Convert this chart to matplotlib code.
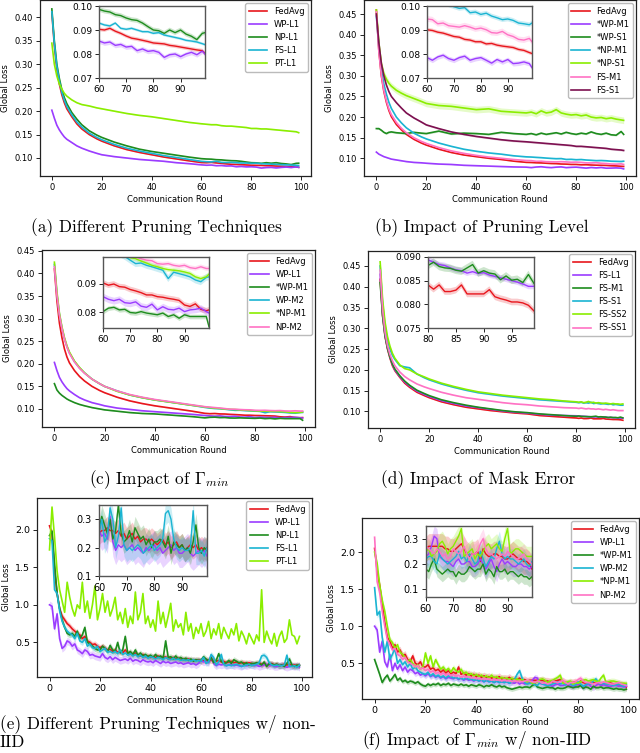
import numpy as np
import matplotlib
matplotlib.use("Agg")
import matplotlib.pyplot as plt

plt.rcParams['mathtext.fontset'] = 'cm'

# ---------------- data ----------------
# rounds used for the IID panels (a)-(c)
R_MAIN = [0, 1, 2, 3, 4, 5, 6, 8, 10, 12, 15, 18, 20, 25, 30, 35, 40, 45, 50, 55,
          60, 62, 64, 66, 68, 70, 72, 74, 76, 78, 80, 82, 84, 86, 88, 90, 92, 94, 96, 98, 99]
# rounds used for panel (d) (inset covers 80-99)
R_D = [0, 1, 2, 3, 4, 5, 6, 8, 10, 12, 15, 18, 20, 25, 30, 35, 40, 45, 50, 55, 60, 65, 70, 75,
       80, 81, 82, 83, 84, 85, 86, 87, 88, 89, 90, 91, 92, 93, 94, 95, 96, 97, 98, 99]
# non-IID panels (e)-(f): every round
R_NOISY = list(range(100))

# (a) Different Pruning Techniques
A_FEDAVG = [0.410, 0.340, 0.290, 0.258, 0.235, 0.218, 0.205, 0.188, 0.173, 0.162, 0.150, 0.141, 0.136, 0.126, 0.118, 0.112, 0.107, 0.102, 0.098, 0.094,
            0.0903, 0.0900, 0.0907, 0.0895, 0.0886, 0.0875, 0.0866, 0.0862, 0.0857, 0.0852, 0.0846, 0.0844, 0.0842, 0.0836, 0.0833, 0.0829, 0.0825, 0.0821, 0.0817, 0.0814, 0.0802]
A_WP_L1 = [0.202, 0.185, 0.170, 0.160, 0.152, 0.145, 0.140, 0.133, 0.126, 0.121, 0.115, 0.110, 0.107, 0.103, 0.100, 0.097, 0.095, 0.093, 0.090, 0.088,
           0.0854, 0.0846, 0.0850, 0.0836, 0.0840, 0.0829, 0.0832, 0.0814, 0.0821, 0.0811, 0.0814, 0.0807, 0.0786, 0.0797, 0.0800, 0.0789, 0.0800, 0.0807, 0.0797, 0.0812, 0.0800]
A_NP_L1 = [0.418, 0.350, 0.300, 0.270, 0.246, 0.229, 0.216, 0.197, 0.183, 0.171, 0.158, 0.149, 0.144, 0.134, 0.126, 0.119, 0.114, 0.110, 0.106, 0.102,
           0.0986, 0.0979, 0.0975, 0.0964, 0.0960, 0.0950, 0.0943, 0.0940, 0.0929, 0.0914, 0.0900, 0.0897, 0.0886, 0.0900, 0.0889, 0.0900, 0.0883, 0.0874, 0.0860, 0.0886, 0.0889]
A_FS_L1 = [0.412, 0.345, 0.295, 0.264, 0.240, 0.223, 0.210, 0.192, 0.177, 0.166, 0.153, 0.144, 0.139, 0.129, 0.121, 0.115, 0.110, 0.105, 0.101, 0.097,
           0.0929, 0.0921, 0.0917, 0.0929, 0.0907, 0.0903, 0.0907, 0.0900, 0.0893, 0.0893, 0.0886, 0.0889, 0.0879, 0.0874, 0.0869, 0.0864, 0.0857, 0.0854, 0.0850, 0.0843, 0.0839]
A_PT_L1 = [0.345, 0.300, 0.275, 0.258, 0.247, 0.238, 0.232, 0.224, 0.218, 0.214, 0.211, 0.207, 0.205, 0.200, 0.195, 0.191, 0.188, 0.184, 0.180, 0.176,
           0.173, 0.172, 0.171, 0.171, 0.169, 0.168, 0.168, 0.167, 0.166, 0.165, 0.163, 0.163, 0.162, 0.162, 0.161, 0.160, 0.159, 0.158, 0.157, 0.156, 0.154]
A_LABELS = ['FedAvg', 'WP-L1', 'NP-L1', 'FS-L1', 'PT-L1']
A_SPREAD = [0.0008, 0.0010, 0.0010, 0.0006, 0.0008]

# (b) Impact of Pruning Level
B_FEDAVG = [0.460, 0.360, 0.300, 0.262, 0.236, 0.216, 0.201, 0.182, 0.169, 0.158, 0.146, 0.137, 0.132, 0.122, 0.114, 0.108, 0.104, 0.100, 0.097, 0.093,
            0.0901, 0.0898, 0.0891, 0.0887, 0.0880, 0.0873, 0.0870, 0.0861, 0.0858, 0.0851, 0.0851, 0.0842, 0.0844, 0.0837, 0.0833, 0.0830, 0.0827, 0.0819, 0.0815, 0.0806, 0.0802]
B_WP_M1 = [0.115, 0.110, 0.107, 0.104, 0.102, 0.100, 0.098, 0.096, 0.094, 0.092, 0.090, 0.089, 0.088, 0.086, 0.085, 0.083, 0.082, 0.081, 0.080, 0.079,
           0.0785, 0.0774, 0.0788, 0.0795, 0.0781, 0.0774, 0.0785, 0.0791, 0.0774, 0.0781, 0.0785, 0.0774, 0.0762, 0.0777, 0.0767, 0.0777, 0.0760, 0.0762, 0.0767, 0.0760, 0.0743]
B_WP_S1 = [0.172, 0.172, 0.168, 0.163, 0.160, 0.163, 0.164, 0.162, 0.161, 0.160, 0.163, 0.161, 0.160, 0.166, 0.159, 0.161, 0.160, 0.158, 0.163, 0.160,
           0.158, 0.160, 0.157, 0.161, 0.158, 0.160, 0.162, 0.159, 0.163, 0.160, 0.158, 0.161, 0.159, 0.164, 0.160, 0.158, 0.161, 0.157, 0.156, 0.165, 0.158]
B_NP_M1 = [0.445, 0.370, 0.315, 0.280, 0.256, 0.236, 0.221, 0.200, 0.186, 0.174, 0.161, 0.152, 0.147, 0.137, 0.129, 0.122, 0.117, 0.113, 0.110, 0.106,
           0.1035, 0.1030, 0.1022, 0.1015, 0.1005, 0.0997, 0.0990, 0.0993, 0.0972, 0.0975, 0.0965, 0.0970, 0.0958, 0.0951, 0.0943, 0.0946, 0.0940, 0.0929, 0.0926, 0.0922, 0.0929]
B_NP_S1 = [0.460, 0.380, 0.330, 0.305, 0.292, 0.282, 0.275, 0.265, 0.258, 0.252, 0.245, 0.238, 0.233, 0.228, 0.226, 0.222, 0.218, 0.220, 0.214, 0.212,
           0.210, 0.212, 0.208, 0.215, 0.210, 0.212, 0.218, 0.210, 0.207, 0.205, 0.206, 0.203, 0.205, 0.200, 0.198, 0.199, 0.196, 0.198, 0.195, 0.193, 0.192]
B_FS_M1 = [0.455, 0.360, 0.302, 0.265, 0.240, 0.220, 0.206, 0.187, 0.173, 0.162, 0.150, 0.141, 0.136, 0.126, 0.118, 0.112, 0.107, 0.103, 0.100, 0.097,
           0.0946, 0.0943, 0.0926, 0.0929, 0.0918, 0.0915, 0.0912, 0.0918, 0.0912, 0.0904, 0.0908, 0.0901, 0.0889, 0.0887, 0.0894, 0.0880, 0.0873, 0.0861, 0.0858, 0.0865, 0.0851]
B_FS_S1 = [0.450, 0.380, 0.330, 0.300, 0.278, 0.262, 0.250, 0.235, 0.222, 0.210, 0.198, 0.188, 0.181, 0.172, 0.164, 0.158, 0.153, 0.149, 0.145, 0.142,
           0.140, 0.139, 0.138, 0.137, 0.136, 0.135, 0.134, 0.133, 0.132, 0.131, 0.129, 0.129, 0.128, 0.127, 0.126, 0.125, 0.124, 0.122, 0.121, 0.120, 0.119]
B_LABELS = ['FedAvg', '*WP-M1', '*WP-S1', '*NP-M1', '*NP-S1', 'FS-M1', 'FS-S1']
B_SPREAD = [0.0008, 0.0010, 0.0020, 0.0010, 0.0080, 0.0012, 0.0020]

# (c) Impact of Gamma_min
C_FEDAVG = [0.410, 0.340, 0.290, 0.258, 0.233, 0.215, 0.202, 0.185, 0.172, 0.162, 0.150, 0.141, 0.136, 0.126, 0.118, 0.112, 0.107, 0.103, 0.099, 0.095,
            0.0903, 0.0895, 0.0899, 0.0890, 0.0888, 0.0880, 0.0875, 0.0869, 0.0861, 0.0861, 0.0855, 0.0853, 0.0849, 0.0846, 0.0842, 0.0826, 0.0821, 0.0830, 0.0811, 0.0806, 0.0809]
C_WP_L1 = [0.203, 0.185, 0.170, 0.160, 0.152, 0.145, 0.140, 0.132, 0.125, 0.120, 0.114, 0.110, 0.107, 0.102, 0.099, 0.096, 0.094, 0.092, 0.090, 0.088,
           0.0855, 0.0846, 0.0841, 0.0846, 0.0834, 0.0832, 0.0837, 0.0822, 0.0818, 0.0829, 0.0809, 0.0820, 0.0811, 0.0809, 0.0815, 0.0803, 0.0809, 0.0811, 0.0815, 0.0803, 0.0798]
C_WP_M1 = [0.156, 0.142, 0.135, 0.130, 0.126, 0.122, 0.119, 0.114, 0.110, 0.107, 0.103, 0.100, 0.098, 0.095, 0.092, 0.090, 0.089, 0.087, 0.085, 0.083,
           0.0803, 0.0815, 0.0818, 0.0809, 0.0811, 0.0800, 0.0798, 0.0803, 0.0798, 0.0795, 0.0792, 0.0798, 0.0786, 0.0792, 0.0780, 0.0792, 0.0786, 0.0786, 0.0786, 0.0786, 0.0750]
C_WP_M2 = [0.420, 0.355, 0.310, 0.280, 0.256, 0.238, 0.224, 0.205, 0.191, 0.180, 0.166, 0.156, 0.150, 0.140, 0.131, 0.125, 0.120, 0.116, 0.112, 0.108,
           0.1035, 0.1020, 0.1010, 0.1005, 0.0995, 0.0982, 0.0970, 0.0972, 0.0964, 0.0959, 0.0953, 0.0947, 0.0918, 0.0940, 0.0935, 0.0930, 0.0924, 0.0913, 0.0907, 0.0922, 0.0924]
C_NP_M1 = [0.425, 0.360, 0.312, 0.282, 0.258, 0.240, 0.226, 0.206, 0.192, 0.180, 0.166, 0.156, 0.150, 0.139, 0.131, 0.125, 0.120, 0.116, 0.112, 0.108,
           0.1045, 0.1030, 0.1020, 0.1010, 0.1000, 0.0991, 0.0987, 0.0979, 0.0972, 0.0964, 0.0959, 0.0953, 0.0949, 0.0947, 0.0945, 0.0941, 0.0936, 0.0924, 0.0918, 0.0924, 0.0933]
C_NP_M2 = [0.415, 0.352, 0.308, 0.278, 0.255, 0.237, 0.223, 0.204, 0.190, 0.179, 0.166, 0.156, 0.150, 0.140, 0.132, 0.126, 0.121, 0.117, 0.113, 0.109,
           0.1050, 0.1040, 0.1030, 0.1020, 0.1008, 0.0995, 0.0993, 0.0987, 0.0982, 0.0980, 0.0970, 0.0968, 0.0970, 0.0964, 0.0961, 0.0964, 0.0956, 0.0953, 0.0959, 0.0953, 0.0953]
C_LABELS = ['FedAvg', 'WP-L1', '*WP-M1', 'WP-M2', '*NP-M1', 'NP-M2']
C_SPREAD = [0.0010, 0.0012, 0.0008, 0.0012, 0.0008, 0.0008]

# (d) Impact of Mask Error
D_FEDAVG = [0.418, 0.330, 0.280, 0.250, 0.228, 0.210, 0.198, 0.182, 0.168, 0.158, 0.146, 0.138, 0.133, 0.123, 0.116, 0.110, 0.106, 0.102, 0.099, 0.096, 0.094, 0.090, 0.088, 0.086,
            0.0841, 0.0832, 0.0841, 0.0827, 0.0827, 0.0830, 0.0841, 0.0822, 0.0822, 0.0822, 0.0822, 0.0831, 0.0816, 0.0812, 0.0809, 0.0805, 0.0805, 0.0803, 0.0798, 0.0786]
D_FS_L1 = [0.430, 0.335, 0.283, 0.253, 0.231, 0.213, 0.200, 0.184, 0.171, 0.161, 0.149, 0.141, 0.136, 0.126, 0.119, 0.113, 0.109, 0.105, 0.101, 0.098, 0.096, 0.093, 0.091, 0.090,
           0.0894, 0.0889, 0.0884, 0.0882, 0.0877, 0.0873, 0.0871, 0.0866, 0.0869, 0.0865, 0.0867, 0.0862, 0.0859, 0.0856, 0.0853, 0.0850, 0.0847, 0.0843, 0.0838, 0.0838]
D_FS_M1 = [0.410, 0.330, 0.282, 0.252, 0.231, 0.214, 0.202, 0.186, 0.173, 0.163, 0.151, 0.143, 0.138, 0.128, 0.121, 0.115, 0.110, 0.106, 0.102, 0.099, 0.097, 0.094, 0.092, 0.090,
           0.0882, 0.0889, 0.0880, 0.0877, 0.0876, 0.0872, 0.0870, 0.0877, 0.0884, 0.0866, 0.0871, 0.0866, 0.0864, 0.0852, 0.0860, 0.0851, 0.0853, 0.0846, 0.0863, 0.0844]
D_FS_S1 = [0.450, 0.360, 0.305, 0.272, 0.250, 0.235, 0.225, 0.210, 0.207, 0.205, 0.190, 0.181, 0.176, 0.166, 0.158, 0.151, 0.145, 0.141, 0.137, 0.134, 0.131, 0.128, 0.126, 0.124,
           0.122, 0.121, 0.122, 0.120, 0.121, 0.120, 0.122, 0.119, 0.120, 0.119, 0.118, 0.119, 0.118, 0.117, 0.118, 0.116, 0.117, 0.116, 0.115, 0.115]
D_FS_SS2 = [0.460, 0.370, 0.315, 0.280, 0.257, 0.240, 0.228, 0.212, 0.203, 0.200, 0.190, 0.183, 0.178, 0.168, 0.160, 0.153, 0.147, 0.143, 0.139, 0.136, 0.133, 0.130, 0.128, 0.125,
            0.123, 0.122, 0.123, 0.121, 0.122, 0.124, 0.121, 0.122, 0.120, 0.121, 0.120, 0.119, 0.120, 0.119, 0.118, 0.119, 0.118, 0.118, 0.117, 0.118]
D_FS_SS1 = [0.440, 0.345, 0.290, 0.258, 0.237, 0.222, 0.210, 0.195, 0.184, 0.176, 0.166, 0.159, 0.155, 0.146, 0.139, 0.133, 0.129, 0.125, 0.121, 0.118, 0.116, 0.113, 0.111, 0.109,
            0.108, 0.107, 0.108, 0.107, 0.106, 0.107, 0.106, 0.106, 0.105, 0.106, 0.105, 0.104, 0.105, 0.104, 0.103, 0.104, 0.103, 0.102, 0.102, 0.102]
D_LABELS = ['FedAvg', 'FS-L1', 'FS-M1', 'FS-S1', 'FS-SS2', 'FS-SS1']
D_SPREAD = [0.0007, 0.0006, 0.0008, 0.0015, 0.0010, 0.0008]

# (e) Different Pruning Techniques w/ non-IID
E_FEDAVG = [2.05, 1.95, 1.45, 1.15, 0.95, 0.85, 0.80, 0.75, 0.72, 0.68, 0.65, 0.62, 0.60, 0.55, 0.58, 0.52, 0.50, 0.47, 0.48, 0.45,
            0.43, 0.45, 0.42, 0.40, 0.41, 0.38, 0.40, 0.37, 0.38, 0.36, 0.40, 0.36, 0.35, 0.34, 0.36, 0.33, 0.32, 0.34, 0.31, 0.32,
            0.30, 0.31, 0.30, 0.32, 0.29, 0.30, 0.31, 0.28, 0.29, 0.30, 0.28, 0.29, 0.27, 0.28, 0.27, 0.28, 0.26, 0.27, 0.26, 0.27,
            0.25, 0.26, 0.26, 0.27, 0.26, 0.26, 0.25, 0.26, 0.24, 0.25, 0.23, 0.24, 0.25, 0.23, 0.24, 0.22, 0.23, 0.23, 0.22, 0.23,
            0.22, 0.21, 0.22, 0.23, 0.21, 0.22, 0.20, 0.21, 0.22, 0.20, 0.21, 0.19, 0.20, 0.21, 0.20, 0.21, 0.19, 0.20, 0.19, 0.20]
E_WP_L1 = [1.00, 0.98, 0.68, 0.88, 0.55, 0.42, 0.45, 0.52, 0.50, 0.45, 0.48, 0.40, 0.38, 0.35, 0.40, 0.38, 0.33, 0.34, 0.32, 0.31,
           0.30, 0.35, 0.30, 0.28, 0.31, 0.27, 0.30, 0.28, 0.26, 0.27, 0.28, 0.26, 0.29, 0.25, 0.27, 0.26, 0.24, 0.27, 0.25, 0.24,
           0.25, 0.23, 0.26, 0.24, 0.22, 0.25, 0.23, 0.24, 0.22, 0.23, 0.24, 0.22, 0.23, 0.21, 0.22, 0.23, 0.21, 0.22, 0.20, 0.22,
           0.26, 0.24, 0.25, 0.23, 0.31, 0.22, 0.19, 0.21, 0.20, 0.21, 0.19, 0.20, 0.21, 0.19, 0.20, 0.19, 0.18, 0.20, 0.19, 0.20,
           0.21, 0.19, 0.20, 0.18, 0.19, 0.20, 0.21, 0.19, 0.20, 0.18, 0.18, 0.19, 0.20, 0.18, 0.17, 0.18, 0.19, 0.18, 0.19, 0.17]
E_NP_L1 = [1.92, 1.98, 1.55, 1.15, 0.95, 0.80, 0.70, 0.62, 0.60, 0.62, 0.58, 0.65, 0.55, 0.60, 0.70, 0.50, 0.48, 0.45, 0.42, 0.40,
           0.40, 0.45, 0.42, 0.38, 0.46, 0.40, 0.38, 0.50, 0.36, 0.40, 0.58, 0.35, 0.38, 0.34, 0.40, 0.33, 0.36, 0.32, 0.34, 0.31,
           0.33, 0.30, 0.34, 0.30, 0.32, 0.29, 0.52, 0.30, 0.31, 0.28, 0.32, 0.28, 0.30, 0.27, 0.29, 0.26, 0.28, 0.25, 0.27, 0.26,
           0.26, 0.31, 0.28, 0.25, 0.30, 0.23, 0.26, 0.35, 0.25, 0.22, 0.23, 0.26, 0.22, 0.27, 0.25, 0.23, 0.24, 0.21, 0.23, 0.20,
           0.22, 0.22, 0.23, 0.22, 0.20, 0.24, 0.18, 0.22, 0.21, 0.20, 0.21, 0.19, 0.20, 0.18, 0.22, 0.28, 0.20, 0.18, 0.20, 0.19]
E_FS_L1 = [1.88, 1.85, 1.20, 1.15, 0.92, 0.78, 0.70, 0.65, 0.62, 0.60, 0.55, 0.62, 0.52, 0.50, 0.55, 0.45, 0.48, 0.43, 0.42, 0.45,
           0.38, 0.40, 0.42, 0.37, 0.38, 0.36, 0.38, 0.35, 0.40, 0.34, 0.36, 0.33, 0.35, 0.32, 0.34, 0.31, 0.33, 0.30, 0.32, 0.29,
           0.31, 0.30, 0.28, 0.30, 0.29, 0.27, 0.30, 0.28, 0.27, 0.29, 0.27, 0.28, 0.26, 0.27, 0.26, 0.27, 0.25, 0.27, 0.25, 0.26,
           0.25, 0.30, 0.22, 0.24, 0.34, 0.30, 0.20, 0.24, 0.34, 0.21, 0.19, 0.20, 0.19, 0.20, 0.21, 0.20, 0.18, 0.19, 0.20, 0.21,
           0.19, 0.20, 0.21, 0.23, 0.32, 0.33, 0.30, 0.23, 0.20, 0.19, 0.20, 0.19, 0.19, 0.20, 0.33, 0.18, 0.18, 0.19, 0.17, 0.20]
E_PT_L1 = [1.73, 2.30, 1.90, 1.45, 1.20, 1.05, 0.90, 1.30, 1.10, 0.95, 0.85, 1.00, 0.95, 1.30, 0.90, 1.05, 0.82, 1.00, 1.25, 0.80,
           0.95, 1.15, 0.90, 1.05, 0.85, 0.95, 1.10, 0.80, 0.90, 0.75, 0.95, 0.70, 0.85, 0.75, 1.17, 0.80, 0.90, 1.15, 0.75, 0.85,
           0.70, 0.80, 0.65, 1.05, 0.75, 0.90, 0.70, 0.85, 1.02, 0.65, 0.80, 0.70, 0.75, 0.60, 0.90, 0.65, 0.75, 0.55, 0.70, 0.62,
           0.75, 0.58, 0.65, 0.78, 0.55, 0.68, 0.60, 0.75, 0.55, 0.70, 0.62, 0.55, 0.68, 0.60, 0.75, 0.52, 0.65, 0.58, 0.48, 0.62,
           0.55, 0.48, 0.60, 0.52, 1.20, 0.50, 0.65, 0.55, 0.48, 0.62, 0.45, 0.58, 0.65, 0.50, 0.55, 0.80, 0.60, 0.58, 0.48, 0.58]
E_LABELS = ['FedAvg', 'WP-L1', 'NP-L1', 'FS-L1', 'PT-L1']
E_SPREAD = [0.04, 0.05, 0.04, 0.04, 0.0]

# (f) Impact of Gamma_min w/ non-IID
F_FEDAVG = [2.05, 1.75, 1.55, 1.30, 1.05, 0.85, 0.80, 0.70, 0.75, 0.65, 0.68, 0.60, 0.62, 0.55, 0.52, 0.60, 0.50, 0.48, 0.52, 0.45,
            0.45, 0.48, 0.42, 0.44, 0.40, 0.42, 0.38, 0.41, 0.37, 0.40, 0.36, 0.38, 0.36, 0.45, 0.35, 0.37, 0.34, 0.36, 0.33, 0.35,
            0.32, 0.34, 0.31, 0.33, 0.31, 0.32, 0.30, 0.31, 0.30, 0.32, 0.29, 0.30, 0.29, 0.31, 0.28, 0.29, 0.28, 0.30, 0.27, 0.28,
            0.26, 0.27, 0.27, 0.27, 0.27, 0.27, 0.27, 0.26, 0.26, 0.25, 0.25, 0.26, 0.27, 0.28, 0.26, 0.24, 0.23, 0.24, 0.24, 0.25,
            0.21, 0.26, 0.24, 0.23, 0.23, 0.24, 0.24, 0.23, 0.23, 0.22, 0.22, 0.23, 0.24, 0.23, 0.22, 0.22, 0.21, 0.21, 0.20, 0.18]
F_WP_L1 = [1.00, 0.95, 0.65, 0.80, 0.52, 0.45, 0.62, 0.40, 0.50, 0.42, 0.48, 0.40, 0.45, 0.38, 0.42, 0.40, 0.36, 0.38, 0.34, 0.36,
           0.33, 0.36, 0.32, 0.34, 0.31, 0.33, 0.30, 0.32, 0.29, 0.31, 0.30, 0.29, 0.31, 0.28, 0.30, 0.27, 0.29, 0.27, 0.28, 0.26,
           0.28, 0.26, 0.27, 0.25, 0.27, 0.25, 0.26, 0.24, 0.26, 0.24, 0.25, 0.24, 0.25, 0.23, 0.24, 0.23, 0.25, 0.22, 0.24, 0.22,
           0.23, 0.24, 0.27, 0.31, 0.30, 0.23, 0.22, 0.21, 0.21, 0.20, 0.19, 0.21, 0.22, 0.20, 0.20, 0.21, 0.21, 0.19, 0.19, 0.20,
           0.22, 0.20, 0.18, 0.20, 0.22, 0.19, 0.17, 0.20, 0.22, 0.20, 0.21, 0.20, 0.19, 0.19, 0.20, 0.20, 0.19, 0.19, 0.18, 0.19]
F_WP_M1 = [0.55, 0.45, 0.35, 0.24, 0.30, 0.34, 0.26, 0.30, 0.35, 0.27, 0.30, 0.25, 0.27, 0.24, 0.26, 0.25, 0.23, 0.25, 0.22, 0.20,
           0.19, 0.22, 0.20, 0.22, 0.21, 0.23, 0.20, 0.22, 0.21, 0.23, 0.20, 0.22, 0.21, 0.20, 0.22, 0.20, 0.21, 0.19, 0.21, 0.20,
           0.19, 0.21, 0.20, 0.18, 0.20, 0.19, 0.21, 0.19, 0.18, 0.20, 0.18, 0.19, 0.17, 0.16, 0.15, 0.16, 0.17, 0.18, 0.17, 0.18,
           0.18, 0.17, 0.20, 0.22, 0.18, 0.17, 0.16, 0.17, 0.18, 0.17, 0.17, 0.15, 0.17, 0.16, 0.16, 0.17, 0.19, 0.18, 0.17, 0.18,
           0.18, 0.20, 0.16, 0.18, 0.17, 0.15, 0.19, 0.17, 0.17, 0.18, 0.16, 0.17, 0.17, 0.16, 0.15, 0.16, 0.15, 0.15, 0.14, 0.15]
F_WP_M2 = [1.52, 1.15, 1.20, 0.85, 0.65, 0.80, 0.55, 0.62, 0.70, 0.50, 0.55, 0.48, 0.52, 0.45, 0.50, 0.42, 0.45, 0.40, 0.38, 0.36,
           0.35, 0.38, 0.33, 0.36, 0.32, 0.34, 0.31, 0.33, 0.30, 0.33, 0.32, 0.30, 0.31, 0.29, 0.30, 0.28, 0.31, 0.28, 0.29, 0.27,
           0.28, 0.26, 0.28, 0.25, 0.27, 0.25, 0.26, 0.24, 0.26, 0.24, 0.25, 0.24, 0.25, 0.23, 0.25, 0.28, 0.35, 0.40, 0.30, 0.24,
           0.22, 0.23, 0.23, 0.21, 0.20, 0.24, 0.22, 0.21, 0.20, 0.21, 0.22, 0.23, 0.25, 0.22, 0.23, 0.21, 0.24, 0.22, 0.20, 0.21,
           0.25, 0.22, 0.19, 0.21, 0.23, 0.22, 0.26, 0.29, 0.24, 0.22, 0.23, 0.22, 0.22, 0.21, 0.20, 0.21, 0.22, 0.20, 0.19, 0.21]
F_NP_M1 = [2.00, 1.85, 1.55, 1.35, 1.20, 1.00, 0.82, 0.78, 0.70, 0.75, 0.65, 0.62, 0.58, 0.52, 0.55, 0.50, 0.45, 0.48, 0.42, 0.45,
           0.64, 0.50, 0.60, 0.45, 0.55, 0.48, 0.42, 0.45, 0.40, 0.43, 0.38, 0.44, 0.40, 0.38, 0.42, 0.36, 0.38, 0.34, 0.36, 0.33,
           0.35, 0.32, 0.34, 0.31, 0.33, 0.30, 0.34, 0.30, 0.32, 0.29, 0.31, 0.29, 0.30, 0.28, 0.30, 0.27, 0.29, 0.27, 0.28, 0.26,
           0.25, 0.26, 0.23, 0.24, 0.25, 0.28, 0.29, 0.27, 0.24, 0.26, 0.27, 0.29, 0.31, 0.34, 0.23, 0.24, 0.25, 0.26, 0.22, 0.24,
           0.23, 0.25, 0.27, 0.28, 0.26, 0.27, 0.28, 0.26, 0.25, 0.30, 0.34, 0.24, 0.25, 0.26, 0.26, 0.25, 0.24, 0.23, 0.23, 0.23]
F_NP_M2 = [2.20, 1.60, 1.45, 1.20, 1.00, 0.82, 0.75, 0.68, 0.70, 0.62, 0.60, 0.55, 0.58, 0.52, 0.50, 0.48, 0.45, 0.47, 0.42, 0.44,
           0.40, 0.42, 0.38, 0.40, 0.36, 0.38, 0.35, 0.37, 0.34, 0.36, 0.33, 0.35, 0.32, 0.34, 0.31, 0.33, 0.31, 0.32, 0.30, 0.31,
           0.29, 0.30, 0.28, 0.30, 0.28, 0.29, 0.27, 0.29, 0.27, 0.28, 0.26, 0.28, 0.26, 0.27, 0.25, 0.27, 0.25, 0.26, 0.25, 0.26,
           0.27, 0.26, 0.25, 0.24, 0.26, 0.25, 0.23, 0.24, 0.22, 0.23, 0.26, 0.25, 0.24, 0.25, 0.27, 0.24, 0.22, 0.24, 0.24, 0.25,
           0.28, 0.30, 0.26, 0.24, 0.24, 0.23, 0.22, 0.23, 0.24, 0.23, 0.25, 0.24, 0.23, 0.22, 0.22, 0.23, 0.24, 0.22, 0.21, 0.20]
F_LABELS = ['FedAvg', 'WP-L1', '*WP-M1', 'WP-M2', '*NP-M1', 'NP-M2']
F_SPREAD = [0.05, 0.04, 0.03, 0.04, 0.04, 0.04]

# ---------------- styling ----------------
RED, PURPLE, GREEN, CYAN, LIME, PINK, MAROON = ('#e8161d', '#9b3cff', '#1e8c1e', '#1ab4d2',
                                                '#8aee00', '#ff72c4', '#7d1050')

W, H = 640, 753
fig = plt.figure(figsize=(W / 100, H / 100), dpi=100)


def rect(l, t, r, b):
    return [l / W, 1 - b / H, (r - l) / W, (b - t) / H]


def panel(box, inbox, x, series, labels, colors, spread, ylim, yticks, yfmt,
          in_xlim, in_xticks, in_ylim, in_yticks, in_fmt, tick_fs=6.0, in_fs=6.5):
    ax = fig.add_axes(rect(*box))
    for y, lab, c, s in zip(series, labels, colors, spread):
        y = np.asarray(y)
        ax.fill_between(x, y - s, y + s, color=c, alpha=0.22, lw=0)
        ax.plot(x, y, color=c, lw=1.2, label=lab)
    ax.set_xlim(-4.95, 103.95)
    ax.set_ylim(*ylim)
    ax.set_xticks([0, 20, 40, 60, 80, 100])
    ax.set_yticks(yticks)
    ax.set_yticklabels([yfmt % v for v in yticks])
    ax.tick_params(labelsize=tick_fs, length=3, width=0.6, pad=2)
    ax.set_xlabel('Communication Round', fontsize=6, labelpad=2)
    ax.set_ylabel('Global Loss', fontsize=6, labelpad=3)
    for sp in ax.spines.values():
        sp.set_linewidth(0.9)
        sp.set_color('#222222')
    ax.legend(loc='upper right', fontsize=6, borderaxespad=0.4, handlelength=2.2,
              labelspacing=0.5, edgecolor='#bbbbbb', framealpha=1.0)

    ins = fig.add_axes(rect(*inbox))
    for y, lab, c, s in zip(series, labels, colors, spread):
        y = np.asarray(y)
        ins.fill_between(x, y - s, y + s, color=c, alpha=0.22, lw=0)
        ins.plot(x, y, color=c, lw=1.0)
    ins.set_xlim(*in_xlim)
    ins.set_ylim(*in_ylim)
    ins.set_xticks(in_xticks)
    ins.set_yticks(in_yticks)
    ins.set_yticklabels([in_fmt % v for v in in_yticks])
    ins.tick_params(labelsize=in_fs, length=3, width=0.6, pad=2)
    for sp in ins.spines.values():
        sp.set_linewidth(1.0)
        sp.set_color('#555555')
    return ax, ins


panel((39.5, 0, 311, 176), (99, 6, 205, 78), R_MAIN,
      [A_FEDAVG, A_WP_L1, A_NP_L1, A_FS_L1, A_PT_L1], A_LABELS,
      [RED, PURPLE, GREEN, CYAN, LIME], A_SPREAD,
      (0.0616, 0.437), [0.10, 0.15, 0.20, 0.25, 0.30, 0.35, 0.40], '%.2f',
      (60, 99), [60, 70, 80, 90], (0.07, 0.10), [0.07, 0.08, 0.09, 0.10], '%.2f')

panel((364, 0, 636, 176), (427, 6, 532, 78), R_MAIN,
      [B_FEDAVG, B_WP_M1, B_WP_S1, B_NP_M1, B_NP_S1, B_FS_M1, B_FS_S1], B_LABELS,
      [RED, PURPLE, GREEN, CYAN, LIME, PINK, MAROON], B_SPREAD,
      (0.057, 0.484), [0.10, 0.15, 0.20, 0.25, 0.30, 0.35, 0.40, 0.45], '%.2f',
      (60, 99), [60, 70, 80, 90], (0.07, 0.10), [0.07, 0.08, 0.09, 0.10], '%.2f')

panel((42, 250, 315, 427), (103, 257, 209, 328), R_MAIN,
      [C_FEDAVG, C_WP_L1, C_WP_M1, C_WP_M2, C_NP_M1, C_NP_M2], C_LABELS,
      [RED, PURPLE, GREEN, CYAN, LIME, PINK], C_SPREAD,
      (0.060, 0.452), [0.10, 0.15, 0.20, 0.25, 0.30, 0.35, 0.40, 0.45], '%.2f',
      (60, 99), [60, 70, 80, 90], (0.0746, 0.0993), [0.08, 0.09], '%.2f')

panel((368, 251, 635, 428), (428, 257, 534, 328), R_D,
      [D_FEDAVG, D_FS_L1, D_FS_M1, D_FS_S1, D_FS_SS2, D_FS_SS1], D_LABELS,
      [RED, PURPLE, GREEN, CYAN, LIME, PINK], D_SPREAD,
      (0.060, 0.486), [0.10, 0.15, 0.20, 0.25, 0.30, 0.35, 0.40, 0.45], '%.2f',
      (80, 99), [80, 85, 90, 95], (0.075, 0.090), [0.075, 0.080, 0.085, 0.090], '%.3f')

panel((37, 498, 312, 677), (99, 505, 207, 576), R_NOISY,
      [E_FEDAVG, E_WP_L1, E_NP_L1, E_FS_L1, E_PT_L1], E_LABELS,
      [RED, PURPLE, GREEN, CYAN, LIME], E_SPREAD,
      (0.04, 2.42), [0.5, 1.0, 1.5, 2.0], '%.1f',
      (60, 99), [60, 70, 80, 90], (0.1, 0.35), [0.1, 0.2, 0.3], '%.1f', tick_fs=6.8, in_fs=7)

panel((362, 518, 639, 699), (426, 526, 532, 597), R_NOISY,
      [F_FEDAVG, F_WP_L1, F_WP_M1, F_WP_M2, F_NP_M1, F_NP_M2], F_LABELS,
      [RED, PURPLE, GREEN, CYAN, LIME, PINK], F_SPREAD,
      (0.018, 2.46), [0.5, 1.0, 1.5, 2.0], '%.1f',
      (60, 99), [60, 70, 80, 90], (0.07, 0.35), [0.1, 0.2, 0.3], '%.1f', tick_fs=6.8, in_fs=7)

# ---------------- captions ----------------
cap = dict(family='cmr10', fontsize=12.4, va='center')
fig.text(156 / W, 1 - 228 / H, '(a) Different Pruning Techniques', ha='center', **cap)
fig.text(482 / W, 1 - 228 / H, '(b) Impact of Pruning Level', ha='center', **cap)
fig.text(159 / W, 1 - 480 / H, r'(c) Impact of $\Gamma_{min}$', ha='center', **cap)
fig.text(478 / W, 1 - 480 / H, '(d) Impact of Mask Error', ha='center', **cap)
fig.text(0, 1 - 724 / H, '(e) Different Pruning Techniques w/ non-', ha='left', **cap)
fig.text(0, 1 - 742 / H, 'IID', ha='left', **cap)
fig.text(477 / W, 1 - 741 / H, r'(f) Impact of $\Gamma_{min}$ w/ non-IID', ha='center', **cap)

fig.savefig('out.png', dpi=100)
